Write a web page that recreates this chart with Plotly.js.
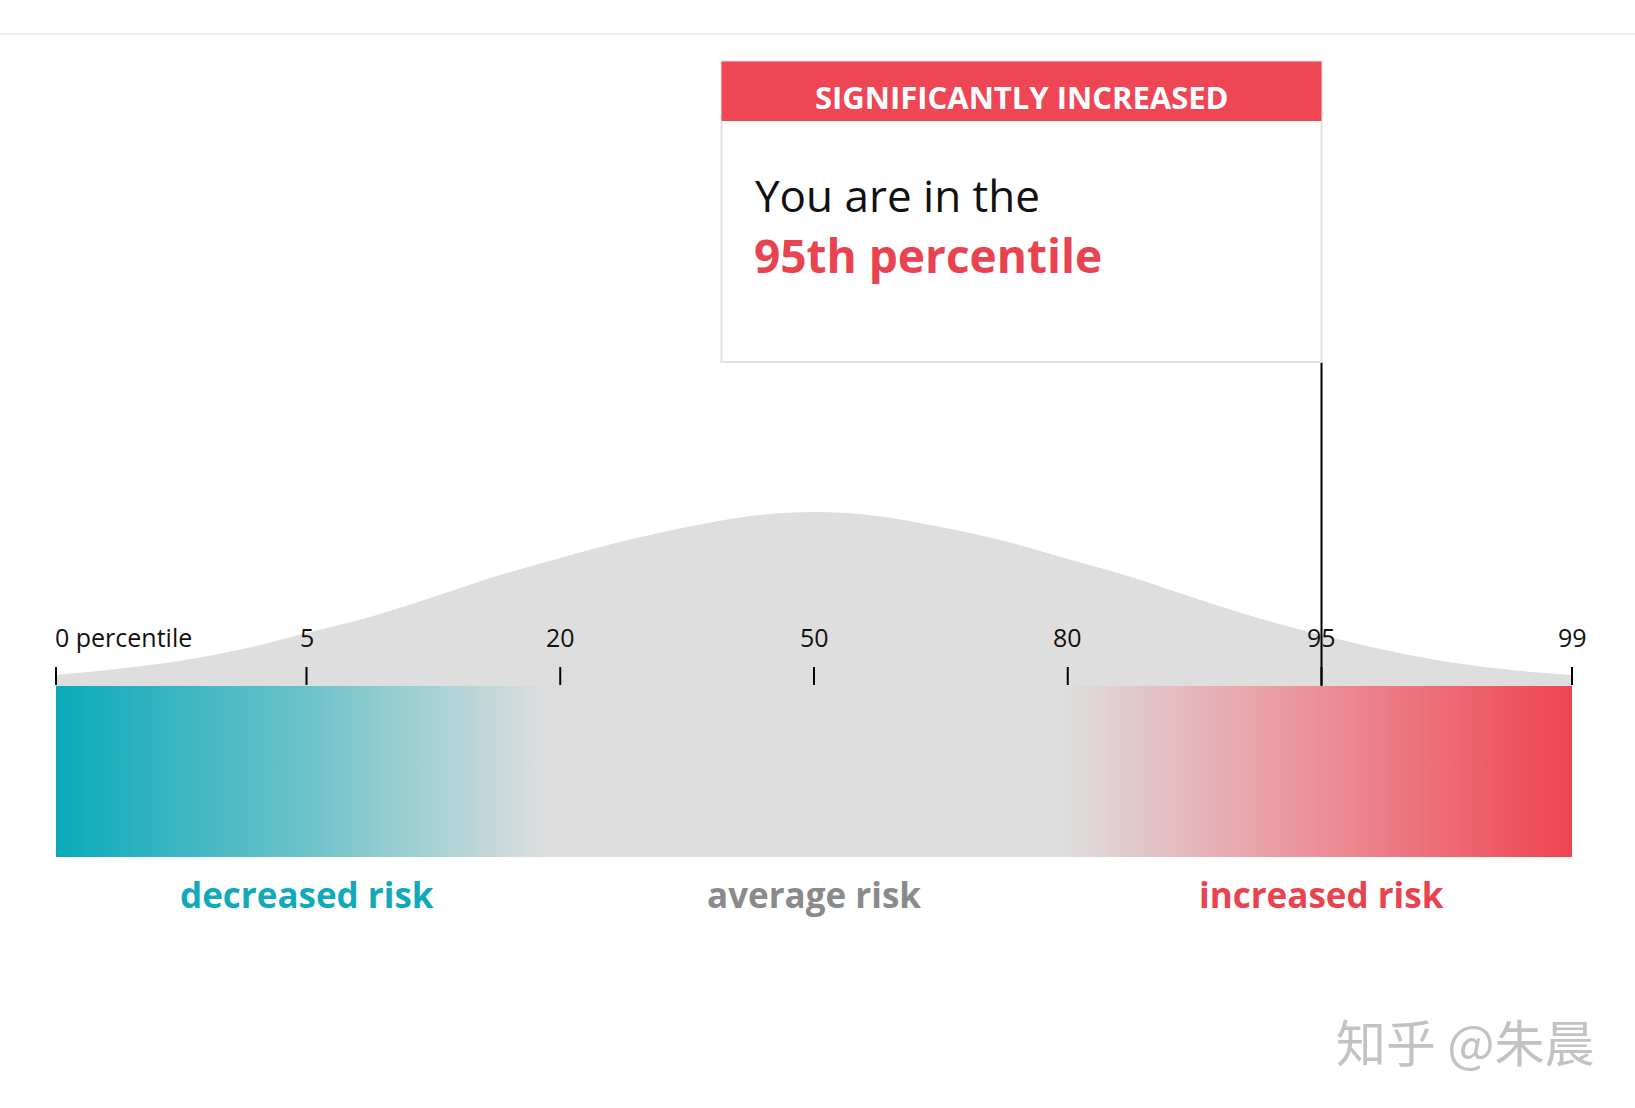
<!DOCTYPE html>
<html><head><meta charset="utf-8">
<script src="https://cdn.plot.ly/plotly-3.0.1.min.js"></script>
<style>html,body{margin:0;padding:0;background:#fff;}#chart{width:1635px;height:1108px;}</style>
</head><body><div id="chart"></div>
<script>
// ---- data ----
const tickValues = [0, 5, 20, 50, 80, 95, 99];
const tickLabels = ['0 percentile', '5', '20', '50', '80', '95', '99'];
// distribution curve (position along scale 0..6, height)
const curveX = [0, 0.25, 0.5, 0.75, 1, 1.25, 1.5, 1.75, 2, 2.25, 2.5, 2.75, 3, 3.25, 3.5, 3.75, 4, 4.25, 4.5, 4.75, 5, 5.25, 5.5, 5.75, 6];
const curveY = [11, 17, 25, 37, 53, 69, 89, 110, 128, 145, 159, 170, 174, 170, 159, 145, 127, 109, 88, 68, 51, 36, 24, 16, 11];
const riskLabels = ['decreased risk', 'average risk', 'increased risk'];
const riskAtPercentile = [5, 50, 95];
const userPercentile = 95;
const headerText = 'SIGNIFICANTLY INCREASED';
const bodyText = 'You are in the';
const resultText = userPercentile + 'th percentile';
const watermark = '知乎 @朱晨';

// ---- helpers ----
const posOf = v => tickValues.indexOf(v);
const pxPerUnit = 253.75, midPx = 814, W = 1635, H = 1108, baseY = 686;
const nTicks = tickValues.length - 1;
const leftPx = midPx - (nTicks / 2) * pxPerUnit;
const inset = 3.25 / pxPerUnit;            // bar ends sit slightly inside the outer ticks
const edgePos = i => i === 0 ? inset : (i === nTicks ? nTicks - inset : i);
const userPos = posOf(userPercentile);

const TEAL = '#12aabb', GRAY = '#dedede';
const FONT = 'Open Sans, Lato, sans-serif';

const traces = [];
// bell curve
const cx = curveX.map(v => v === 0 ? inset : (v === nTicks ? nTicks - inset : v));
traces.push({x: cx, y: curveY, type: 'scatter', mode: 'lines', fill: 'tozeroy',
  fillcolor: GRAY, line: {width: 0, shape: 'spline', color: GRAY}, hoverinfo: 'skip'});
// gradient bar
const b0 = edgePos(0), b1 = edgePos(nTicks);
traces.push({x: [b0, b1, b1, b0, b0], y: [0, 0, -171, -171, 0], type: 'scatter', mode: 'lines',
  fill: 'toself', line: {width: 0},
  fillgradient: {type: 'horizontal', start: b0, stop: b1,
    colorscale: [[0, '#0aaabb'], [0.17, '#6fc3c9'], [0.325, GRAY], [0.665, GRAY], [0.83, '#eb9199'], [1, '#ef4452']]},
  hoverinfo: 'skip'});
// ticks
const tx = [], ty = [];
tickValues.forEach((v, i) => { const p = edgePos(i); tx.push(p, p, null); ty.push(1, 19, null); });
traces.push({x: tx, y: ty, type: 'scatter', mode: 'lines', line: {color: '#000', width: 2}, hoverinfo: 'skip'});
// marker line
traces.push({x: [userPos, userPos], y: [324, 0], type: 'scatter', mode: 'lines', line: {color: '#000', width: 2}, hoverinfo: 'skip'});

const annotations = [];
tickLabels.forEach((t, i) => {
  annotations.push({x: edgePos(i), y: 49, xref: 'x', yref: 'y', text: t, showarrow: false,
    xanchor: i === 0 ? 'left' : 'center', yanchor: 'middle', xshift: i === 0 ? -3 : 0,
    font: {family: FONT, size: 25, color: '#111'}});
});
const riskColors = [TEAL, '#8a8a8a', '#e8434f'];
riskLabels.forEach((t, i) => {
  annotations.push({x: posOf(riskAtPercentile[i]), y: -208, xref: 'x', yref: 'y', text: '<b>' + t + '</b>', showarrow: false,
    xanchor: 'center', yanchor: 'middle', font: {family: FONT, size: 35, color: riskColors[i]}});
});
const boxX0 = userPos - 600 / pxPerUnit;
annotations.push({x: boxX0 + 300 / pxPerUnit, y: 589, xref: 'x', yref: 'y', text: '<b>' + headerText + '</b>', showarrow: false,
  xanchor: 'center', yanchor: 'middle', font: {family: FONT, size: 31, color: '#fff'}});
annotations.push({x: boxX0 + 31 / pxPerUnit, y: 491, xref: 'x', yref: 'y', text: bodyText, showarrow: false,
  xanchor: 'left', yanchor: 'middle', font: {family: FONT, size: 44, color: '#111'}});
annotations.push({x: boxX0 + 30 / pxPerUnit, y: 431, xref: 'x', yref: 'y', text: '<b>' + resultText + '</b>', showarrow: false,
  xanchor: 'left', yanchor: 'middle', font: {family: FONT, size: 46, color: '#e8434f'}});
annotations.push({x: 1465 / W, y: 1 - 1040 / H, xref: 'paper', yref: 'paper', text: watermark, showarrow: false,
  xanchor: 'center', yanchor: 'middle', font: {family: 'Noto Sans CJK SC, sans-serif', size: 50, color: '#c2c2c2'}});

const shapes = [
  {type: 'line', xref: 'paper', yref: 'paper', x0: 0, x1: 1, y0: 1 - 34 / H, y1: 1 - 34 / H, line: {color: '#e9e9e9', width: 1.5}},
  {type: 'rect', xref: 'x', yref: 'y', x0: boxX0, x1: userPos, y0: 324, y1: 624.5, fillcolor: '#fff', line: {color: '#e0e0e0', width: 2}},
  {type: 'rect', xref: 'x', yref: 'y', x0: boxX0, x1: userPos, y0: 565, y1: 624.5, fillcolor: '#ee4655', line: {width: 0}}
];

const layout = {
  width: W, height: H, margin: {l: 0, r: 0, t: 0, b: 0}, showlegend: false,
  paper_bgcolor: '#fff', plot_bgcolor: '#fff',
  xaxis: {range: [-leftPx / pxPerUnit, (W - leftPx) / pxPerUnit], visible: false, fixedrange: true},
  yaxis: {range: [baseY - H, baseY], visible: false, fixedrange: true},
  annotations, shapes
};
Plotly.newPlot('chart', traces, layout, {displayModeBar: false, staticPlot: true});
</script></body></html>
